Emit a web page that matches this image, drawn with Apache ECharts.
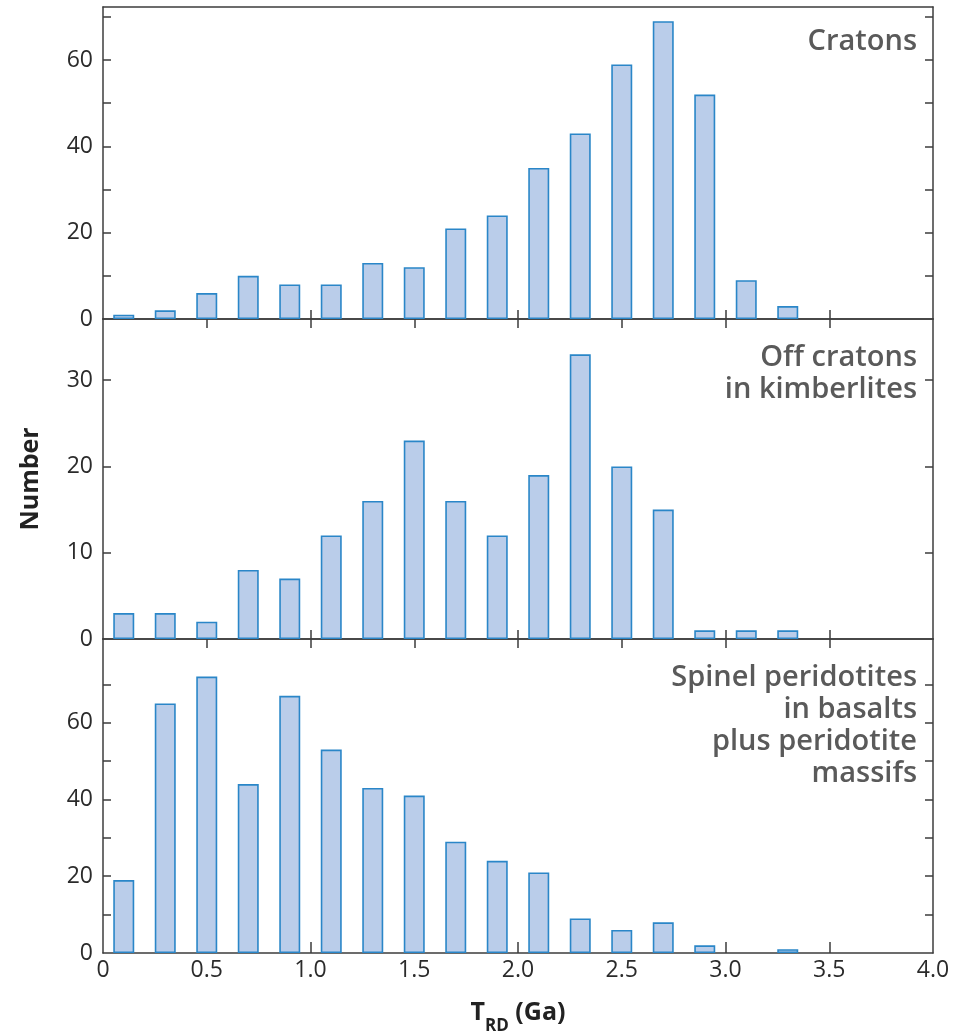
<!DOCTYPE html>
<html>
<head>
<meta charset="utf-8">
<script src="https://cdn.jsdelivr.net/npm/echarts@6/dist/echarts.min.js"></script>
<style>html,body{margin:0;padding:0;background:#fff;}#c{width:961px;height:1032px;}</style>
</head>
<body>
<div id="c"></div>
<script>
// Bin centres (Ga)
const bins = [0.1,0.3,0.5,0.7,0.9,1.1,1.3,1.5,1.7,1.9,2.1,2.3,2.5,2.7,2.9,3.1,3.3];
// Counts per panel
const cratons   = [1,2,6,10,8,8,13,12,21,24,35,43,59,69,52,9,3];
const offCratons= [3,3,2,8,7,12,16,23,16,12,19,33,20,15,1,1,1];
const spinel    = [19,65,72,44,67,53,43,41,29,24,21,9,6,8,2,0,1];
const panelLabels = ['Cratons', 'Off cratons\nin kimberlites', 'Spinel peridotites\nin basalts\nplus peridotite\nmassifs'];
const xTicks = [0.5,1.0,1.5,2.0,2.5,3.0,3.5];
const xLabels = [0,0.5,1.0,1.5,2.0,2.5,3.0,3.5,4.0];
const yTicksTop = [10,20,30,40,50,60,70];
const yLabelsTop = [0,20,40,60];
const yTicksMid = [10,20,30];
const yLabelsMid = [0,10,20,30];
const yTicksBot = [10,20,30,40,50,60,70];
const yLabelsBot = [0,20,40,60];

const FONT = '"Open Sans", "Noto Sans", sans-serif';
const AX = '#3c3c3c';
const grids = [
  {left:103, width:830, top:7, height:312, outerBoundsMode:'none', containLabel:false},
  {left:103, width:830, top:319, height:320, outerBoundsMode:'none', containLabel:false},
  {left:103, width:830, top:639, height:314, outerBoundsMode:'none', containLabel:false}
];
const yMax = [72.3, 37.1, 81.8];

function xAx(grid, pos, tickLen, showTicks, showLabels){
  return {
    type:'value', gridIndex:grid, position:pos, min:0, max:4,
    axisLine:{show:true, onZero:false, lineStyle:{color:AX, width:1.5}},
    axisTick:{show:showTicks, inside:true, length:tickLen, customValues:xTicks, lineStyle:{color:AX, width:1.5}},
    axisLabel:{show:showLabels, customValues:xLabels, margin:6, color:'#2b2b2b', fontSize:23, fontFamily:FONT,
      formatter:function(v){return v===0?'0':v.toFixed(1);}},
    splitLine:{show:false}
  };
}
function yAx(grid, pos, max, ticks, labels, showLabels, extra){
  return Object.assign({
    type:'value', gridIndex:grid, position:pos, min:0, max:max,
    axisLine:{show:true, onZero:false, lineStyle:{color:AX, width:1.5}},
    axisTick:{show:true, inside:true, length:8, customValues:ticks, lineStyle:{color:AX, width:1.5}},
    axisLabel:{show:showLabels, customValues:labels, margin:10, color:'#2b2b2b', fontSize:23, fontFamily:FONT},
    splitLine:{show:false}
  }, extra||{});
}

const xAxes = [
  xAx(0,'bottom',9,true,false),
  xAx(0,'top',0,false,false),
  xAx(1,'bottom',9,true,false),
  xAx(1,'top',9,true,false),
  Object.assign(xAx(2,'bottom',11,true,true), {
    name:'{t|T}{s|RD}{t| (Ga)}', nameLocation:'middle', nameGap:38,
    nameTextStyle:{rich:{
      t:{fontSize:25, fontWeight:'bold', fontFamily:FONT, color:'#222', lineHeight:44, verticalAlign:'middle'},
      s:{fontSize:17, fontWeight:'bold', fontFamily:FONT, color:'#222', lineHeight:17, verticalAlign:'bottom'}
    }}
  }),
  xAx(2,'top',9,true,false)
];
const yAxes = [
  yAx(0,'left',yMax[0],yTicksTop,yLabelsTop,true),
  yAx(0,'right',yMax[0],yTicksTop,yLabelsTop,false),
  yAx(1,'left',yMax[1],yTicksMid,yLabelsMid,true,{
    name:'Number', nameLocation:'middle', nameRotate:90, nameGap:60,
    nameTextStyle:{fontSize:25, fontWeight:'bold', fontFamily:FONT, color:'#222'}
  }),
  yAx(1,'right',yMax[1],yTicksMid,yLabelsMid,false),
  yAx(2,'left',yMax[2],yTicksBot,yLabelsBot,true),
  yAx(2,'right',yMax[2],yTicksBot,yLabelsBot,false)
];

function barSeries(vals, xi, yi){
  return {
    type:'bar', xAxisIndex:xi, yAxisIndex:yi, barWidth:21,
    // empty bins draw no bar
    data: bins.map(function(b,i){return vals[i] > 0 ? [b, vals[i]] : [b, null];}),
    itemStyle:{color:'#bacdea', borderColor:'#2a86c8', borderWidth:1.6},
    z:1
  };
}

const labelY = [42, 374, 726];
const graphicEls = panelLabels.map(function(t,i){
  return {type:'text', x:917, y:labelY[i], style:{text:t, align:'right', verticalAlign:'middle',
    fontSize:29, fontWeight:600, fontFamily:FONT, fill:'#5a5a5a', lineHeight:32}, silent:true};
});

const chart = echarts.init(document.getElementById('c'), null, {renderer:'canvas'});
chart.setOption({
  backgroundColor:'#fff',
  animation:false,
  grid:grids,
  xAxis:xAxes,
  yAxis:yAxes,
  series:[barSeries(cratons,0,0), barSeries(offCratons,2,2), barSeries(spinel,4,4)],
  graphic:graphicEls
});
</script>
</body>
</html>
